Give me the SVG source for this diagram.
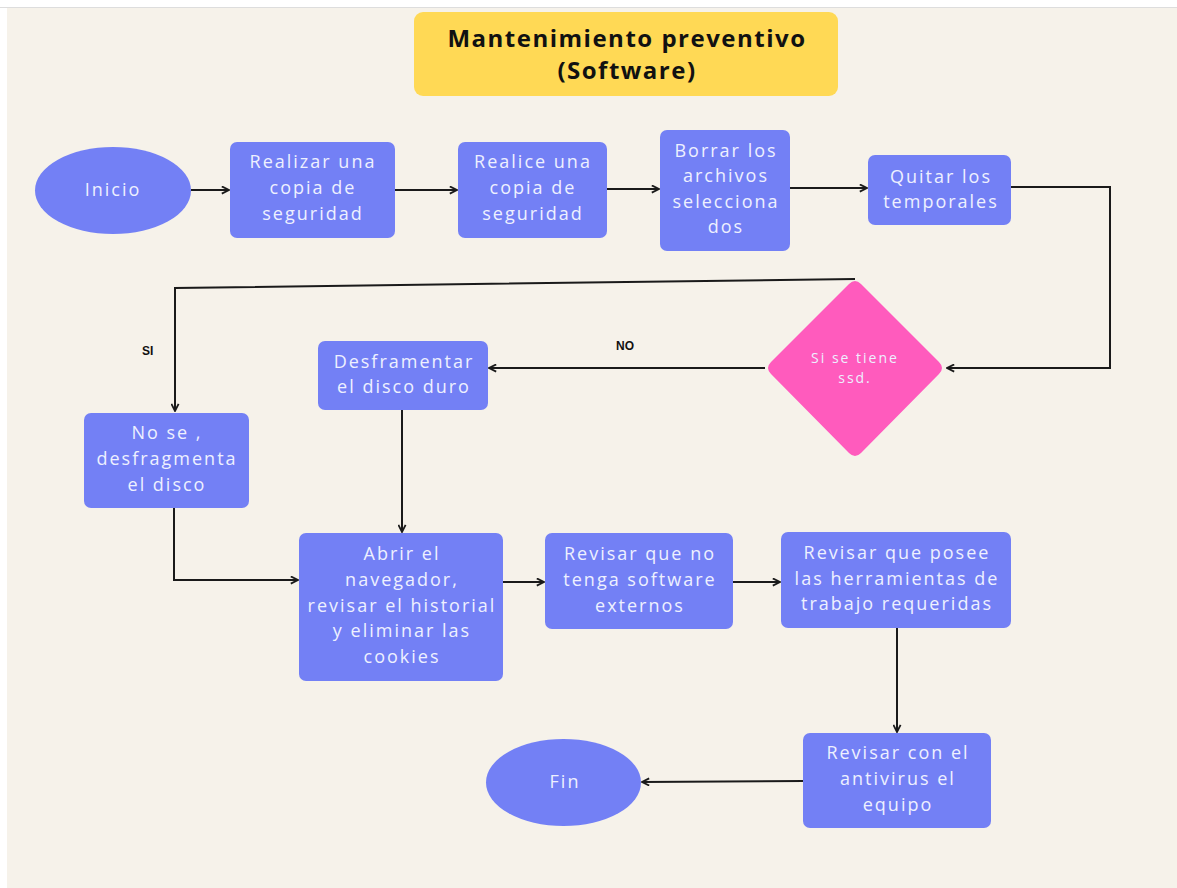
<svg xmlns="http://www.w3.org/2000/svg" width="1177" height="888" viewBox="0 0 1177 888">
<defs>
<marker id="arr" viewBox="0 0 10 10" refX="9" refY="5" markerWidth="9" markerHeight="9" markerUnits="userSpaceOnUse" orient="auto">
<path d="M1,1 L9,5 L1,9" fill="none" stroke="#1a1a1a" stroke-width="2"/>
</marker>
</defs>
<style>
.node{fill:#7380f5}
.t{font-family:"Open Sans","Liberation Sans",sans-serif;font-size:18px;fill:#eef0ff;text-anchor:middle;letter-spacing:2px}
.d{font-size:14px;letter-spacing:2px}
.c{fill:none;stroke:#1a1a1a;stroke-width:2}
.lbl{font-family:"Liberation Sans",Arial,sans-serif;font-size:12px;font-weight:bold;fill:#111}
.title{font-family:"Open Sans","Liberation Sans",sans-serif;font-size:24px;font-weight:bold;fill:#111;text-anchor:middle;letter-spacing:1.5px}
</style>
<rect x="0" y="0" width="1177" height="888" fill="#ffffff"/>
<rect x="7" y="8" width="1170" height="880" fill="#f6f2ea"/>
<line x1="0" y1="7.5" x2="1177" y2="7.5" stroke="#dddddd" stroke-width="1"/>
<g id="title">
<rect x="414" y="12" width="424" height="84" rx="9" fill="#ffd955"/>
<text class="title" x="627" y="47">Mantenimiento preventivo</text>
<text class="title" x="627" y="79">(Software)</text>
</g>
<g id="connectors">
<line class="c" x1="191" y1="190" x2="229" y2="190" marker-end="url(#arr)"/>
<line class="c" x1="395" y1="190" x2="457" y2="190" marker-end="url(#arr)"/>
<line class="c" x1="607" y1="189" x2="659" y2="189" marker-end="url(#arr)"/>
<line class="c" x1="790" y1="188" x2="867" y2="188" marker-end="url(#arr)"/>
<polyline class="c" points="1011,187 1110,187 1110,368 947,368" marker-end="url(#arr)"/>
<polyline class="c" points="855,279 175,288 175,411" marker-end="url(#arr)"/>
<line class="c" x1="765" y1="368" x2="489" y2="368" marker-end="url(#arr)"/>
<polyline class="c" points="174,508 174,580 298,580" marker-end="url(#arr)"/>
<line class="c" x1="402" y1="410" x2="402" y2="532" marker-end="url(#arr)"/>
<line class="c" x1="503" y1="582" x2="544" y2="582" marker-end="url(#arr)"/>
<line class="c" x1="733" y1="582" x2="780" y2="582" marker-end="url(#arr)"/>
<line class="c" x1="897" y1="628" x2="897" y2="732" marker-end="url(#arr)"/>
<line class="c" x1="803" y1="781" x2="642" y2="782" marker-end="url(#arr)"/>
<text class="lbl" x="142" y="355">SI</text>
<text class="lbl" x="616" y="350">NO</text>
</g>
<g id="inicio">
<ellipse class="node" cx="113" cy="190.5" rx="78" ry="43.5"/>
<text class="t" x="113" y="196">Inicio</text>
</g>
<g id="copia1">
<rect class="node" x="230" y="142" width="165" height="96" rx="7"/>
<text class="t" x="313" y="168">Realizar una</text>
<text class="t" x="313" y="194">copia de</text>
<text class="t" x="313" y="220">seguridad</text>
</g>
<g id="copia2">
<rect class="node" x="458" y="142" width="149" height="96" rx="7"/>
<text class="t" x="533" y="168">Realice una</text>
<text class="t" x="533" y="194">copia de</text>
<text class="t" x="533" y="220">seguridad</text>
</g>
<g id="borrar">
<rect class="node" x="660" y="130" width="130" height="121" rx="7"/>
<text class="t" x="726" y="157">Borrar los</text>
<text class="t" x="726" y="182">archivos</text>
<text class="t" x="726" y="208">selecciona</text>
<text class="t" x="726" y="233">dos</text>
</g>
<g id="temporales">
<rect class="node" x="868" y="155" width="143" height="70" rx="7"/>
<text class="t" x="941" y="183">Quitar los</text>
<text class="t" x="941" y="208">temporales</text>
</g>
<g id="decision">
<path d="M849,284 Q855,278 861,284 L939,362 Q945,368 939,374 L861,453 Q855,459 849,453 L771,374 Q765,368 771,362 Z" fill="#ff5bbd"/>
<text class="t d" x="855" y="363">Si se tiene</text>
<text class="t d" x="855" y="383">ssd.</text>
</g>
<g id="desfragmentar">
<rect class="node" x="318" y="341" width="170" height="69" rx="7"/>
<text class="t" x="404" y="368">Desframentar</text>
<text class="t" x="404" y="393">el disco duro</text>
</g>
<g id="nose">
<rect class="node" x="84" y="413" width="165" height="95" rx="7"/>
<text class="t" x="167" y="439">No se ,</text>
<text class="t" x="167" y="465">desfragmenta</text>
<text class="t" x="167" y="491">el disco</text>
</g>
<g id="navegador">
<rect class="node" x="299" y="533" width="204" height="148" rx="7"/>
<text class="t" x="402" y="560">Abrir el</text>
<text class="t" x="402" y="586">navegador,</text>
<text class="t" x="402" y="612">revisar el historial</text>
<text class="t" x="402" y="637">y eliminar las</text>
<text class="t" x="402" y="663">cookies</text>
</g>
<g id="software">
<rect class="node" x="545" y="533" width="188" height="96" rx="7"/>
<text class="t" x="640" y="560">Revisar que no</text>
<text class="t" x="640" y="586">tenga software</text>
<text class="t" x="640" y="612">externos</text>
</g>
<g id="herramientas">
<rect class="node" x="781" y="532" width="230" height="96" rx="7"/>
<text class="t" x="897" y="559">Revisar que posee</text>
<text class="t" x="897" y="585">las herramientas de</text>
<text class="t" x="897" y="610">trabajo requeridas</text>
</g>
<g id="antivirus">
<rect class="node" x="803" y="733" width="188" height="95" rx="7"/>
<text class="t" x="898" y="759">Revisar con el</text>
<text class="t" x="898" y="785">antivirus el</text>
<text class="t" x="898" y="811">equipo</text>
</g>
<g id="fin">
<ellipse class="node" cx="563.5" cy="782.5" rx="77.5" ry="43.5"/>
<text class="t" x="565" y="788">Fin</text>
</g>
</svg>
